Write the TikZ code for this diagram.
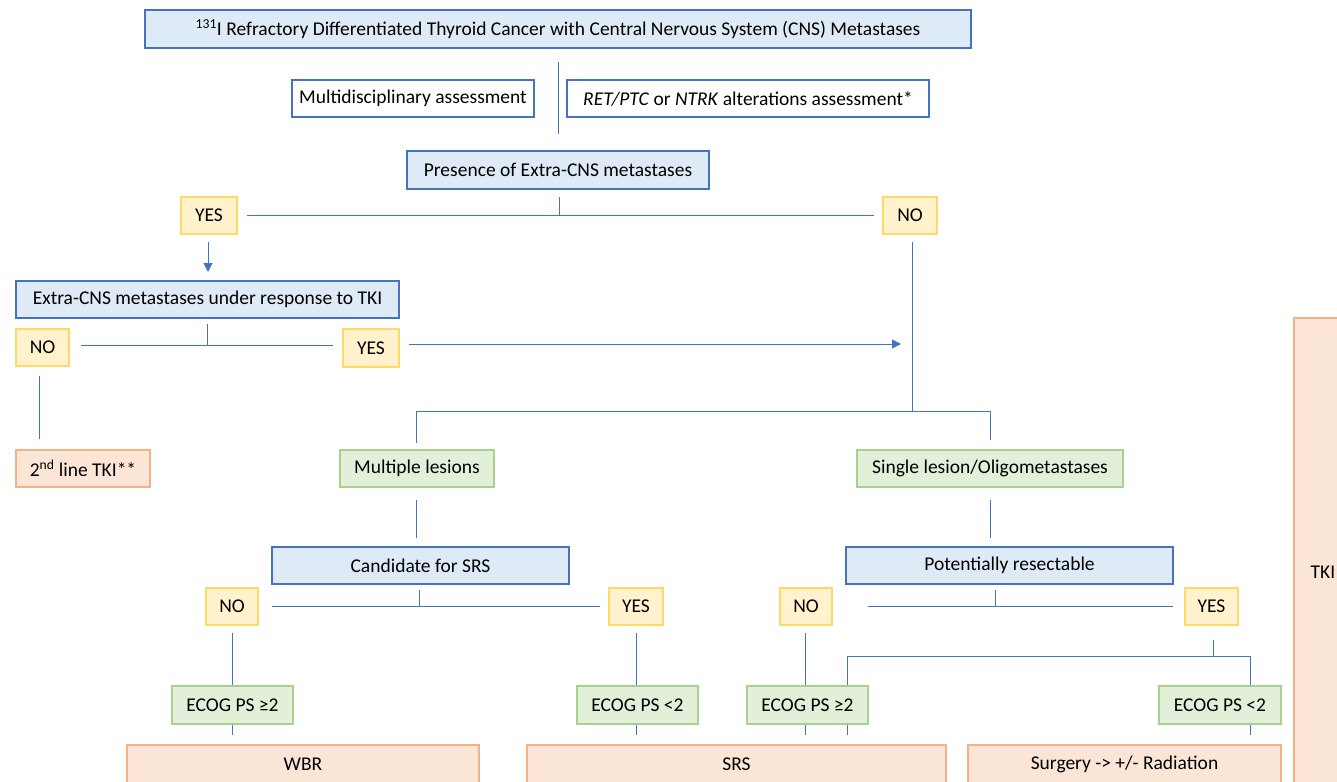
\documentclass[tikz,border=0pt]{standalone}
\usepackage{fontspec}
\setmainfont{Carlito}
\usetikzlibrary{arrows.meta}
\definecolor{lnblue}{HTML}{4472C4}
\definecolor{bfill}{HTML}{DEEBF7}
\definecolor{yfill}{HTML}{FFF2CC}
\definecolor{ydraw}{HTML}{FFD966}
\definecolor{gfill}{HTML}{E2F0D9}
\definecolor{gdraw}{HTML}{A9D18E}
\definecolor{sfill}{HTML}{FBE5D6}
\definecolor{sdraw}{HTML}{F4B183}
\begin{document}
\begin{tikzpicture}[x=1pt,y=-1pt,
  every node/.style={font=\fontsize{19.5}{23}\selectfont, inner sep=0pt, text=black},
  bluebox/.style={draw=lnblue, fill=bfill, line width=1.4pt},
  whitebox/.style={draw=lnblue, fill=white, line width=1.4pt},
  yelbox/.style={draw=ydraw, fill=yfill, line width=1.2pt},
  grnbox/.style={draw=gdraw, fill=gfill, line width=1.2pt},
  salbox/.style={draw=sdraw, fill=sfill, line width=1.2pt},
  conn/.style={draw=lnblue, line width=1pt},
  arr/.style={conn, -{Triangle[width=9pt,length=9pt]}}]
\useasboundingbox (0,0) rectangle (1337,781);
\clip (0,0) rectangle (1337,781);

% connectors (drawn first)
\coordinate (c1t) at (558,62);
\coordinate (c1b) at (558,134);
\draw[conn] (c1t) -- (c1b);
\coordinate (j1) at (559,197);
\coordinate (j1b) at (559,215);
\coordinate (hl1) at (247,215);
\coordinate (hr1) at (874,215);
\draw[conn] (j1) -- (j1b);
\draw[conn] (hl1) -- (hr1);
\coordinate (a1s) at (208,242);
\coordinate (a1e) at (208,272);
\draw[arr] (a1s) -- (a1e);
\coordinate (j2) at (207,324);
\coordinate (j2b) at (207,345);
\coordinate (hl2) at (81,345);
\coordinate (hr2) at (333,345);
\draw[conn] (j2) -- (j2b);
\draw[conn] (hl2) -- (hr2);
\coordinate (a2s) at (409,344);
\coordinate (a2e) at (901,344);
\draw[arr] (a2s) -- (a2e);
\coordinate (v1t) at (912,242);
\coordinate (v1b) at (912,411);
\draw[conn] (v1t) -- (v1b);
\coordinate (hl3) at (416,411);
\coordinate (hr3) at (990,411);
\coordinate (hl3b) at (416,443);
\coordinate (hr3b) at (990,440);
\draw[conn] (hl3b) -- (hl3) -- (hr3) -- (hr3b);
\coordinate (v2t) at (39,376);
\coordinate (v2b) at (39,439);
\draw[conn] (v2t) -- (v2b);
\coordinate (v3t) at (416,500);
\coordinate (v3b) at (416,538);
\draw[conn] (v3t) -- (v3b);
\coordinate (v4t) at (990,500);
\coordinate (v4b) at (990,538);
\draw[conn] (v4t) -- (v4b);
\coordinate (j3) at (419,590);
\coordinate (j3b) at (419,606);
\coordinate (hl4) at (272,606);
\coordinate (hr4) at (600,606);
\draw[conn] (j3) -- (j3b);
\draw[conn] (hl4) -- (hr4);
\coordinate (j4) at (995,590);
\coordinate (j4b) at (995,606);
\coordinate (hl5) at (868,606);
\coordinate (hr5) at (1173,606);
\draw[conn] (j4) -- (j4b);
\draw[conn] (hl5) -- (hr5);
% NO / YES verticals
\foreach \x in {232,636,805} {
  \draw[conn] (\x,633) -- (\x,686);
  \draw[conn] (\x,724) -- (\x,735);
}
\coordinate (j5) at (1213,640);
\coordinate (j5b) at (1213,656);
\draw[conn] (j5) -- (j5b);
\coordinate (hl6) at (847,656);
\coordinate (hr6) at (1250,656);
\draw[conn] (847,686) -- (hl6) -- (hr6) -- (1250,686);
\draw[conn] (847,724) -- (847,735);
\draw[conn] (1250,724) -- (1250,735);

% nodes
\node[bluebox, minimum width=826pt, minimum height=38pt] (title) at (558,29)
  {\textsuperscript{131}I Refractory Differentiated Thyroid Cancer with Central Nervous System (CNS) Metastases};
\node[whitebox, minimum width=242pt, minimum height=37pt] (mda) at (413,98.5) {Multidisciplinary assessment};
\node[whitebox, minimum width=362pt, minimum height=37pt] (ret) at (748,98.5) {\textit{RET/PTC} or \textit{NTRK} alterations assessment*};
\node[bluebox, minimum width=302pt, minimum height=38pt] (pres) at (558,170) {Presence of Extra-CNS metastases};
\node[yelbox, minimum width=56pt, minimum height=37pt] (yes1) at (209,215.5) {YES};
\node[yelbox, minimum width=54pt, minimum height=37pt] (no1) at (910,215.5) {NO};
\node[bluebox, minimum width=383pt, minimum height=37pt] (extra) at (207.5,299.5) {Extra-CNS metastases under response to TKI};
\node[yelbox, minimum width=53pt, minimum height=37pt] (no2) at (42.5,347.5) {NO};
\node[yelbox, minimum width=56pt, minimum height=38pt] (yes2) at (371,348) {YES};
\node[salbox, minimum width=134pt, minimum height=37pt] (tki2) at (83,468.5) {2\textsuperscript{nd} line TKI**};
\node[grnbox, minimum width=154pt, minimum height=37pt] (mult) at (417,468.5) {Multiple lesions};
\node[grnbox, minimum width=266pt, minimum height=37pt] (single) at (990,468.5) {Single lesion/Oligometastases};
\node[bluebox, minimum width=297pt, minimum height=37pt] (cand) at (420.5,565.5) {Candidate for SRS};
\node[bluebox, minimum width=327pt, minimum height=37pt] (resect) at (1009.5,565.5) {Potentially resectable};
\node[yelbox, minimum width=52pt, minimum height=37pt] (no3) at (232,606.5) {NO};
\node[yelbox, minimum width=54pt, minimum height=37pt] (yes3) at (636,606.5) {YES};
\node[yelbox, minimum width=52pt, minimum height=37pt] (no4) at (806,606.5) {NO};
\node[yelbox, minimum width=53pt, minimum height=37pt] (yes4) at (1211.5,606.5) {YES};
\node[grnbox, minimum width=121pt, minimum height=38pt] (ecog1) at (232.5,705) {ECOG PS ≥2};
\node[grnbox, minimum width=121pt, minimum height=38pt] (ecog2) at (637.5,705) {ECOG PS <2};
\node[grnbox, minimum width=121pt, minimum height=38pt] (ecog3) at (807.5,705) {ECOG PS ≥2};
\node[grnbox, minimum width=122pt, minimum height=38pt] (ecog4) at (1220,705) {ECOG PS <2};
\node[salbox, minimum width=352pt, minimum height=38pt] (wbr) at (303,764) {WBR};
\node[salbox, minimum width=419pt, minimum height=38pt] (srs) at (736.5,764) {SRS};
\node[salbox, minimum width=313pt, minimum height=38pt] (surg) at (1124.5,764) {Surgery -> +/- Radiation};
\node[salbox, minimum width=58pt, minimum height=508pt] (tki) at (1323,572) {TKI};
\end{tikzpicture}
\end{document}
